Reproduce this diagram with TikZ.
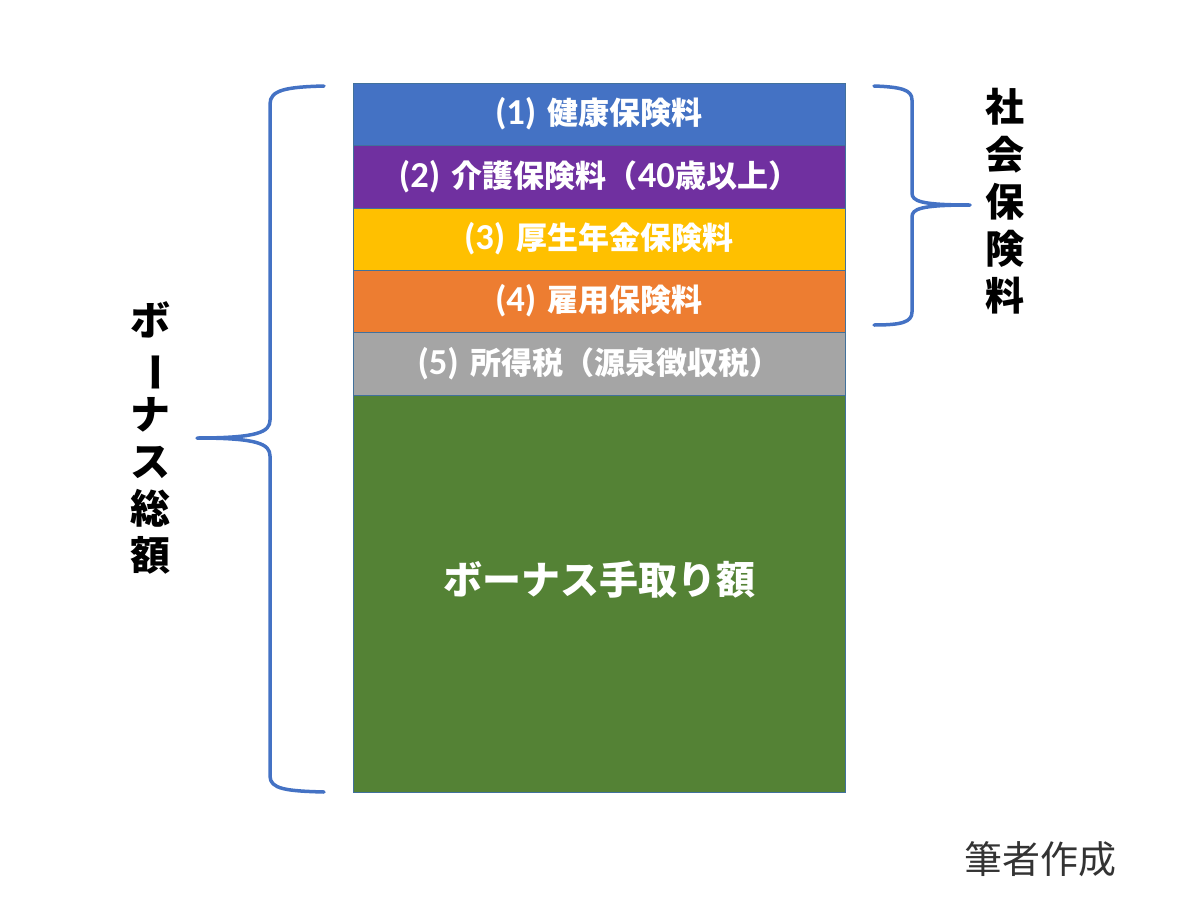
\documentclass[tikz,border=0pt]{standalone}
\usepackage{fontspec}
\usepackage{graphicx}
\newfontfamily\jp{Noto Sans CJK JP}
\newfontfamily\lat{Carlito}[Scale=1.18]
\definecolor{c1}{HTML}{4472C4}
\definecolor{c2}{HTML}{7030A0}
\definecolor{c3}{HTML}{FFC000}
\definecolor{c4}{HTML}{ED7D31}
\definecolor{c5}{HTML}{A5A5A5}
\definecolor{c6}{HTML}{548235}
\definecolor{boxline}{HTML}{41719C}
\definecolor{braceblue}{HTML}{4472C4}
\definecolor{notegray}{HTML}{333333}
\newcommand{\vbar}{\rotatebox[origin=c]{-90}{ー}}
\begin{document}
\begin{tikzpicture}[x=1pt,y=-1pt,
  row/.style={draw=boxline, line width=0.8pt, minimum width=492pt, inner sep=0pt, outer sep=0pt,
    text=white, font=\fontsize{31}{36}\selectfont\bfseries},
  brace/.style={draw=braceblue, line width=3.5pt, line cap=round, line join=round},
  sidelabel/.style={align=center, inner sep=0pt, font=\jp\fontsize{40}{47}\selectfont\bfseries}]
\useasboundingbox (0,0) rectangle (1200,897);
\node[row, fill=c1, minimum height=62pt] (r1) at (599,114) {{\lat (1)} {\jp 健康保険料}};
\node[row, fill=c2, minimum height=63pt] (r2) at (599,176.5) {{\lat (2)} {\jp 介護保険料（}{\lat 40}{\jp 歳以上）}};
\node[row, fill=c3, minimum height=62pt] (r3) at (599,239) {{\lat (3)} {\jp 厚生年金保険料}};
\node[row, fill=c4, minimum height=62pt] (r4) at (599,301) {{\lat (4)} {\jp 雇用保険料}};
\node[row, fill=c5, minimum height=63pt] (r5) at (599,363.5) {{\lat (5)} {\jp 所得税（源泉徴収税）}};
\node[row, fill=c6, minimum height=397pt] (r6) at (599,593.5) {};
\node[text=white, font=\jp\fontsize{39}{44}\selectfont\bfseries] (net) at (599,580) {ボーナス手取り額};
% left brace
\draw[brace] (324,86) .. controls (286,87) and (270,90) .. (270,104) -- (270,420)
  .. controls (270,432) and (258,438) .. (197,438)
  .. controls (258,438) and (270,444) .. (270,456) -- (270,776)
  .. controls (270,789) and (286,791) .. (324,792);
% right brace
\draw[brace] (874,86) .. controls (902,87) and (912,90) .. (912,100) -- (912,193)
  .. controls (912,201) and (920,205) .. (970,205)
  .. controls (920,205) and (912,209) .. (912,217) -- (912,312)
  .. controls (912,322) and (902,325) .. (874,325);
\node[sidelabel] (total) at (150,438) {ボ\\\vbar\\ナ\\ス\\総\\額};
\node[sidelabel, font=\jp\fontsize{39}{47.3}\selectfont\bfseries] (social) at (1005,201.5) {社\\会\\保\\険\\料};
\node[text=notegray, font=\jp\fontsize{38}{44}\selectfont] (note) at (1040,859) {筆者作成};
\end{tikzpicture}
\end{document}
